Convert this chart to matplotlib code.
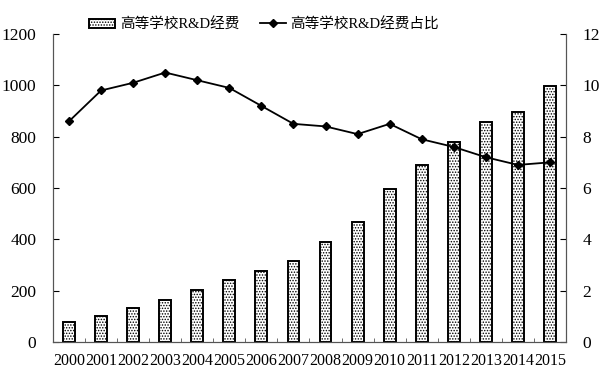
import numpy as np
import matplotlib
matplotlib.use('Agg')
import matplotlib.pyplot as plt

plt.rcParams['font.family'] = ['Liberation Serif', 'Noto Sans CJK SC']
plt.rcParams['hatch.linewidth'] = 0.7

years = ['2000', '2001', '2002', '2003', '2004', '2005', '2006', '2007',
         '2008', '2009', '2010', '2011', '2012', '2013', '2014', '2015']
funding = [76.7, 102.4, 130.5, 162.3, 200.9, 242.3, 276.8, 314.7,
           390.2, 468.2, 597.3, 688.9, 780.6, 856.7, 898.1, 998.6]
share = [8.6, 9.8, 10.1, 10.5, 10.2, 9.9, 9.2, 8.5,
         8.4, 8.1, 8.5, 7.9, 7.6, 7.2, 6.9, 7.0]

x = np.arange(len(years))

fig = plt.figure(figsize=(6, 3.74), dpi=100)
ax = fig.add_axes([0.0883, 0.0856, 0.855, 0.8234])
bars = ax.bar(x, funding, width=0.37, color='white', edgecolor='black',
              linewidth=1.4, hatch='......', label='高等学校R&D经费')
ax.set_xlim(-0.5, len(years) - 0.5)
ax.set_ylim(0, 1200)
ax.set_yticks(range(0, 1201, 200))
ax.set_xticks(x)
ax.set_xticklabels(years)
ax.set_xticks(np.arange(-0.5, len(years), 1), minor=True)
ax.tick_params(axis='x', which='major', length=0, pad=8, labelsize=11.5)
ax.tick_params(axis='x', which='minor', length=3, direction='in', width=0.6, color='#555555')
ax.tick_params(axis='y', direction='in', length=4, width=0.8, labelsize=12.5, pad=12)
ax.spines['top'].set_visible(False)
for s in ['left', 'bottom', 'right']:
    ax.spines[s].set_color('#555555')
    ax.spines[s].set_linewidth(0.8)

ax2 = ax.twinx()
line, = ax2.plot(x, share, color='black', marker='D', markersize=4.5,
                 linewidth=1.3, label='高等学校R&D经费占比')
ax2.set_ylim(0, 12)
ax2.set_yticks(range(0, 13, 2))
ax2.tick_params(axis='y', direction='in', length=4, width=0.8, labelsize=12.5, pad=12)
ax2.spines['top'].set_visible(False)
for s in ['left', 'bottom', 'right']:
    ax2.spines[s].set_color('#555555')
    ax2.spines[s].set_linewidth(0.8)

fig.legend([bars, line], ['高等学校R&D经费', '高等学校R&D经费占比'],
           loc='center', bbox_to_anchor=(0.44, 0.935), ncol=2, frameon=False,
           prop={'family': ['Liberation Serif', 'Noto Sans CJK SC'], 'size': 10.5},
           handlelength=1.8, handleheight=0.6, columnspacing=1.4, handletextpad=0.3)

fig.savefig('out.png', dpi=100)
